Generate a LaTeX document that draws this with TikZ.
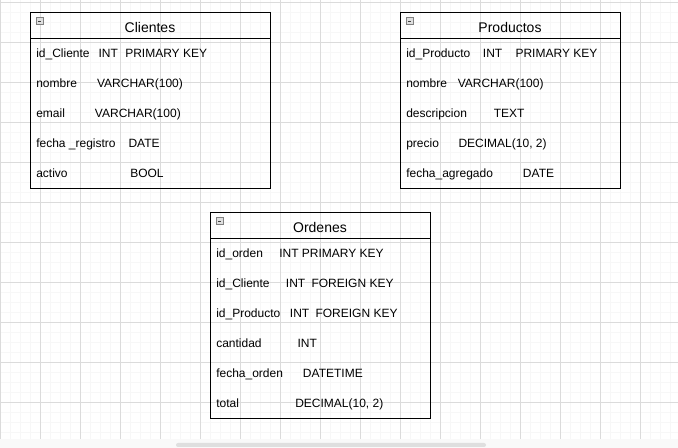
\documentclass[tikz,border=0pt]{standalone}
\usepackage{fontspec}
\setmainfont{Liberation Sans}
\usetikzlibrary{positioning}

\begin{document}
\begin{tikzpicture}[x=0.75pt, y=-0.75pt,
  campo/.style={anchor=base west, inner sep=0pt, font=\fontsize{9}{10}\selectfont},
  titulo/.style={anchor=base, inner sep=0pt, font=\fontsize{10.5}{12}\selectfont},
  tabla/.style={draw=black, line width=0.75pt},
  icono/.style={draw=gray, fill=gray!25, line width=0.75pt},
  menor/.style={gray!6, line width=0.75pt},
  mayor/.style={gray!28, line width=0.75pt}]
\useasboundingbox (0,0) rectangle (678,448);

% Grid of the canvas
\foreach \x in {0,10,...,670} \draw[menor] (\x,0) -- (\x,439);
\foreach \y in {3,13,...,433} \draw[menor] (0,\y) -- (678,\y);
\foreach \x in {0,40,...,640} \draw[mayor] (\x,0) -- (\x,439);
\foreach \y in {3,43,...,403} \draw[mayor] (0,\y) -- (678,\y);

% Scroll bar
\fill[gray!5] (0,439) rectangle (678,448);
\fill[gray!25, rounded corners=1.5pt] (176,443) rectangle (486,447);

% Clientes
\draw[tabla] (30,13) rectangle (270,189);
\draw[tabla] (30,39) -- (270,39);
\draw[icono] (36,18) rectangle (43,25);
\draw[darkgray, line width=0.75pt] (38,21.5) -- (41,21.5);
\node[titulo] (cliT) at (150,32.3) {Clientes};
\node[campo] (cli1) at (36,57.3) {id\_Cliente};
\node[campo] (cli1a) at (98.3,57.3) {INT};
\node[campo] (cli1b) at (125,57.3) {PRIMARY KEY};
\node[campo] (cli2) at (36,87.3) {nombre};
\node[campo] (cli2a) at (96.8,87.3) {VARCHAR(100)};
\node[campo] (cli3) at (36,117.3) {email};
\node[campo] (cli3a) at (94.7,117.3) {VARCHAR(100)};
\node[campo] (cli4) at (36,147.3) {fecha \_registro};
\node[campo] (cli4a) at (128.3,147.3) {DATE};
\node[campo] (cli5) at (36,177.3) {activo};
\node[campo] (cli5a) at (130,177.3) {BOOL};

% Productos
\draw[tabla] (400,13) rectangle (620,189);
\draw[tabla] (400,39) -- (620,39);
\draw[icono] (406,18) rectangle (413,25);
\draw[darkgray, line width=0.75pt] (408,21.5) -- (411,21.5);
\node[titulo] (prodT) at (510,32.3) {Productos};
\node[campo] (prod1) at (406,57.3) {id\_Producto};
\node[campo] (prod1a) at (482.7,57.3) {INT};
\node[campo] (prod1b) at (515.3,57.3) {PRIMARY KEY};
\node[campo] (prod2) at (406,87.3) {nombre};
\node[campo] (prod2a) at (457.5,87.3) {VARCHAR(100)};
\node[campo] (prod3) at (406,117.3) {descripcion};
\node[campo] (prod3a) at (493.5,117.3) {TEXT};
\node[campo] (prod4) at (406,147.3) {precio};
\node[campo] (prod4a) at (458.3,147.3) {DECIMAL(10, 2)};
\node[campo] (prod5) at (406,177.3) {fecha\_agregado};
\node[campo] (prod5a) at (522.7,177.3) {DATE};

% Ordenes
\draw[tabla] (210,213) rectangle (430,419);
\draw[tabla] (210,239) -- (430,239);
\draw[icono] (216,218) rectangle (223,225);
\draw[darkgray, line width=0.75pt] (218,221.5) -- (221,221.5);
\node[titulo] (ordT) at (320,232.3) {Ordenes};
\node[campo] (ord1) at (216,257.3) {id\_orden};
\node[campo] (ord1a) at (279,257.3) {INT PRIMARY KEY};
\node[campo] (ord2) at (216,287.3) {id\_Cliente};
\node[campo] (ord2a) at (285.7,287.3) {INT};
\node[campo] (ord2b) at (311.3,287.3) {FOREIGN KEY};
\node[campo] (ord3) at (216,317.3) {id\_Producto};
\node[campo] (ord3a) at (289.7,317.3) {INT};
\node[campo] (ord3b) at (315.3,317.3) {FOREIGN KEY};
\node[campo] (ord4) at (216,347.3) {cantidad};
\node[campo] (ord4a) at (297.3,347.3) {INT};
\node[campo] (ord5) at (216,377.3) {fecha\_orden};
\node[campo] (ord5a) at (302.7,377.3) {DATETIME};
\node[campo] (ord6) at (216,407.3) {total};
\node[campo] (ord6a) at (295,407.3) {DECIMAL(10, 2)};
\end{tikzpicture}
\end{document}
